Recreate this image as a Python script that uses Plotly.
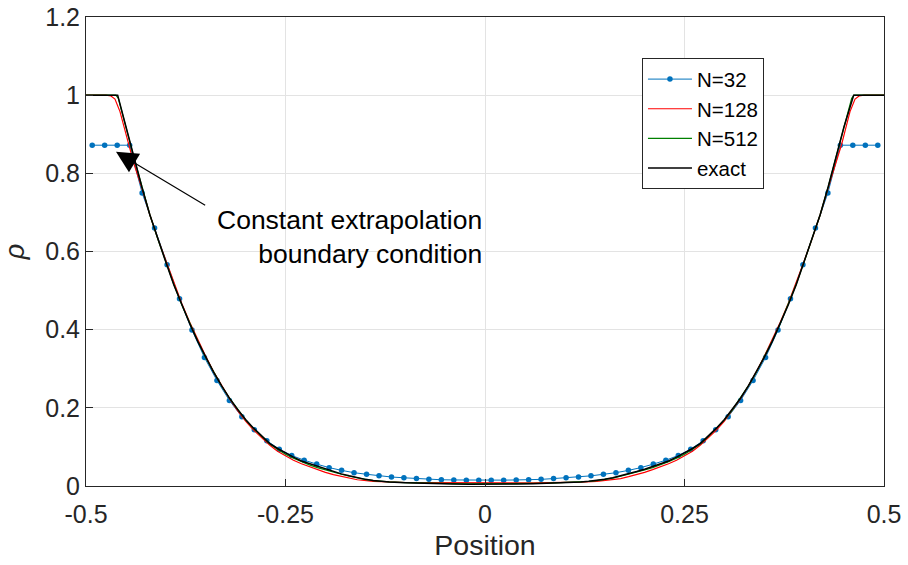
import plotly.graph_objects as go

# ---------------- data ----------------
n32_x = [-0.4922, -0.4766, -0.4609, -0.4453, -0.4297, -0.4141, -0.3984, -0.3828, -0.3672, -0.3516,
         -0.3359, -0.3203, -0.3047, -0.2891, -0.2734, -0.2578, -0.2422, -0.2266, -0.2109, -0.1953,
         -0.1797, -0.1641, -0.1484, -0.1328, -0.1172, -0.1016, -0.0859, -0.0703, -0.0547, -0.0391,
         -0.0234, -0.0078,
         0.0078, 0.0234, 0.0391, 0.0547, 0.0703, 0.0859, 0.1016, 0.1172, 0.1328, 0.1484,
         0.1641, 0.1797, 0.1953, 0.2109, 0.2266, 0.2422, 0.2578, 0.2734, 0.2891, 0.3047,
         0.3203, 0.3359, 0.3516, 0.3672, 0.3828, 0.3984, 0.4141, 0.4297, 0.4453, 0.4609,
         0.4766, 0.4922]
n32_y = [0.872, 0.872, 0.872, 0.872, 0.750, 0.660, 0.566, 0.479, 0.399, 0.329,
         0.270, 0.219, 0.177, 0.144, 0.116, 0.094, 0.078, 0.066, 0.056, 0.047,
         0.040, 0.034, 0.030, 0.026, 0.023, 0.021, 0.019, 0.017, 0.016, 0.0155,
         0.015, 0.015,
         0.015, 0.015, 0.0155, 0.016, 0.017, 0.019, 0.021, 0.023, 0.026, 0.030,
         0.034, 0.040, 0.047, 0.056, 0.066, 0.078, 0.094, 0.116, 0.144, 0.177,
         0.219, 0.270, 0.329, 0.399, 0.479, 0.566, 0.660, 0.750, 0.872, 0.872,
         0.872, 0.872]

n128_x = [-0.5, -0.475, -0.4687, -0.4637, -0.4574, -0.452, -0.447, -0.44, -0.43, -0.42,
          -0.41, -0.40, -0.39, -0.38, -0.37, -0.36, -0.35, -0.34, -0.33, -0.32,
          -0.31, -0.30, -0.29, -0.28, -0.27, -0.26, -0.25, -0.24, -0.23, -0.22,
          -0.21, -0.20, -0.19, -0.18, -0.17, -0.16, -0.14, -0.12, -0.10, -0.08,
          -0.06, -0.04, -0.02, 0.0,
          0.02, 0.04, 0.06, 0.08, 0.10, 0.12, 0.14, 0.16, 0.17, 0.18,
          0.19, 0.20, 0.21, 0.22, 0.23, 0.24, 0.25, 0.26, 0.27, 0.28,
          0.29, 0.30, 0.31, 0.32, 0.33, 0.34, 0.35, 0.36, 0.37, 0.38,
          0.39, 0.40, 0.41, 0.42, 0.43, 0.44, 0.447, 0.452, 0.4574, 0.4637,
          0.4687, 0.475, 0.5]
n128_y = [1.0, 1.0, 0.998, 0.99, 0.958, 0.915, 0.875, 0.825, 0.762, 0.694,
          0.633, 0.576, 0.519, 0.467, 0.419, 0.374, 0.332, 0.292, 0.256, 0.223,
          0.193, 0.166, 0.143, 0.123, 0.105, 0.089, 0.077, 0.066, 0.057, 0.049,
          0.042, 0.035, 0.029, 0.024, 0.019, 0.016, 0.012, 0.0100, 0.0090, 0.0086,
          0.0083, 0.0081, 0.0080, 0.0080,
          0.0080, 0.0081, 0.0083, 0.0086, 0.0090, 0.0100, 0.012, 0.016, 0.019, 0.024,
          0.029, 0.035, 0.042, 0.049, 0.057, 0.066, 0.077, 0.089, 0.105, 0.123,
          0.143, 0.166, 0.193, 0.223, 0.256, 0.292, 0.332, 0.374, 0.419, 0.467,
          0.519, 0.576, 0.633, 0.694, 0.762, 0.825, 0.875, 0.915, 0.958, 0.99,
          0.998, 1.0, 1.0]

n512_x = [-0.5, -0.4625, -0.4595, -0.456, -0.45, -0.44, -0.43, -0.42, -0.41, -0.40,
          -0.39, -0.38, -0.37, -0.36, -0.35, -0.34, -0.33, -0.32, -0.31, -0.30,
          -0.29, -0.28, -0.27, -0.26, -0.25, -0.24, -0.23, -0.22, -0.21, -0.20,
          -0.19, -0.18, -0.17, -0.16, -0.15, -0.14, -0.13, -0.12, -0.10, -0.08,
          -0.06, -0.04, -0.02, 0.0,
          0.02, 0.04, 0.06, 0.08, 0.10, 0.12, 0.13, 0.14, 0.15, 0.16,
          0.17, 0.18, 0.19, 0.20, 0.21, 0.22, 0.23, 0.24, 0.25, 0.26,
          0.27, 0.28, 0.29, 0.30, 0.31, 0.32, 0.33, 0.34, 0.35, 0.36,
          0.37, 0.38, 0.39, 0.40, 0.41, 0.42, 0.43, 0.44, 0.45, 0.456,
          0.4595, 0.4625, 0.5]
n512_y = [1.0, 1.0, 0.992, 0.962, 0.918, 0.841, 0.765, 0.694, 0.632, 0.574,
          0.516, 0.464, 0.416, 0.371, 0.329, 0.291, 0.256, 0.224, 0.195, 0.169,
          0.147, 0.127, 0.108, 0.094, 0.081, 0.071, 0.062, 0.054, 0.047, 0.041,
          0.035, 0.030, 0.025, 0.020, 0.017, 0.014, 0.012, 0.0105, 0.0088, 0.0075,
          0.0066, 0.0060, 0.0057, 0.0056,
          0.0057, 0.0060, 0.0066, 0.0075, 0.0088, 0.0105, 0.012, 0.014, 0.017, 0.020,
          0.025, 0.030, 0.035, 0.041, 0.047, 0.054, 0.062, 0.071, 0.081, 0.094,
          0.108, 0.127, 0.147, 0.169, 0.195, 0.224, 0.256, 0.291, 0.329, 0.371,
          0.416, 0.464, 0.516, 0.574, 0.632, 0.694, 0.765, 0.841, 0.918, 0.962,
          0.992, 1.0, 1.0]

exact_x = [-0.5, -0.4603, -0.45, -0.44, -0.43, -0.42, -0.41, -0.40, -0.39, -0.38,
           -0.37, -0.36, -0.35, -0.34, -0.33, -0.32, -0.31, -0.30, -0.29, -0.28,
           -0.27, -0.26, -0.25, -0.24, -0.23, -0.22, -0.21, -0.20, -0.19, -0.18,
           -0.17, -0.16, -0.15, -0.14, -0.13, -0.12, -0.10, -0.08, -0.06, -0.04,
           -0.02, 0.0,
           0.02, 0.04, 0.06, 0.08, 0.10, 0.12, 0.13, 0.14, 0.15, 0.16,
           0.17, 0.18, 0.19, 0.20, 0.21, 0.22, 0.23, 0.24, 0.25, 0.26,
           0.27, 0.28, 0.29, 0.30, 0.31, 0.32, 0.33, 0.34, 0.35, 0.36,
           0.37, 0.38, 0.39, 0.40, 0.41, 0.42, 0.43, 0.44, 0.45, 0.4620,
           0.5]
exact_y = [1.0, 1.0, 0.920, 0.842, 0.765, 0.694, 0.632, 0.573, 0.515, 0.463,
           0.415, 0.370, 0.329, 0.291, 0.256, 0.224, 0.196, 0.170, 0.148, 0.128,
           0.109, 0.096, 0.084, 0.074, 0.064, 0.057, 0.050, 0.043, 0.037, 0.031,
           0.026, 0.021, 0.017, 0.014, 0.012, 0.0105, 0.0085, 0.007, 0.006, 0.005,
           0.0045, 0.0043,
           0.0045, 0.005, 0.006, 0.007, 0.0085, 0.0105, 0.012, 0.014, 0.017, 0.021,
           0.026, 0.031, 0.037, 0.043, 0.050, 0.057, 0.064, 0.074, 0.084, 0.096,
           0.109, 0.128, 0.148, 0.170, 0.196, 0.224, 0.256, 0.291, 0.329, 0.370,
           0.415, 0.463, 0.515, 0.573, 0.632, 0.694, 0.765, 0.842, 0.920, 1.0,
           1.0]

x_tick_vals = [-0.5, -0.25, 0, 0.25, 0.5]
x_tick_text = ["-0.5", "-0.25", "0", "0.25", "0.5"]
y_tick_vals = [0, 0.2, 0.4, 0.6, 0.8, 1.0, 1.2]
y_tick_text = ["0", "0.2", "0.4", "0.6", "0.8", "1", "1.2"]

series_names = ["N=32", "N=128", "N=512", "exact"]
note_text = "Constant extrapolation<br>boundary condition"

# ---------------- figure ----------------
FONT = "Liberation Sans, Arial, Helvetica, sans-serif"
AX = "#262626"

fig = go.Figure()
fig.add_trace(go.Scatter(x=n32_x, y=n32_y, name=series_names[0], mode="lines+markers",
                         line=dict(color="#0072BD", width=1),
                         marker=dict(color="#0072BD", size=5.5)))
fig.add_trace(go.Scatter(x=n128_x, y=n128_y, name=series_names[1], mode="lines",
                         line=dict(color="#FF0000", width=1.2)))
fig.add_trace(go.Scatter(x=n512_x, y=n512_y, name=series_names[2], mode="lines",
                         line=dict(color="#008000", width=1.2)))
fig.add_trace(go.Scatter(x=exact_x, y=exact_y, name=series_names[3], mode="lines",
                         line=dict(color="#000000", width=1.5)))

axis_common = dict(showgrid=True, gridcolor="#e3e3e3", gridwidth=1,
                   showline=True, linecolor=AX, linewidth=1, mirror=True,
                   ticks="inside", ticklen=7, tickcolor=AX, zeroline=False,
                   automargin=False,
                   tickfont=dict(family=FONT, size=25, color=AX))

fig.update_xaxes(range=[-0.5, 0.5], tickvals=x_tick_vals, ticktext=x_tick_text,
                 ticklabelstandoff=6,
                 title=dict(text="Position", font=dict(family=FONT, size=28.5, color=AX), standoff=8),
                 **axis_common)
fig.update_yaxes(range=[0, 1.2], tickvals=y_tick_vals, ticktext=y_tick_text,
                 title=dict(text="<i>ρ</i>", font=dict(family=FONT, size=27, color=AX), standoff=13),
                 **axis_common)

fig.add_annotation(x=-0.4624, y=0.855, ax=-0.3488, ay=0.716, xref="x", yref="y",
                   axref="x", ayref="y", text="", showarrow=True,
                   arrowhead=2, arrowsize=3.6, arrowwidth=1.2, arrowcolor="#000000",
                   standoff=0, startstandoff=0)
fig.add_annotation(x=-0.0013, y=0.637, xref="x", yref="y", text=note_text,
                   showarrow=False, xanchor="right", yanchor="middle", align="right",
                   font=dict(family=FONT, size=26.5, color="#000000"))

fig.update_layout(
    width=908, height=565,
    margin=dict(l=86, r=24, t=17, b=79),
    paper_bgcolor="white", plot_bgcolor="white",
    font=dict(family=FONT, color=AX),
    showlegend=True,
    legend=dict(x=0.6967, y=0.912, xanchor="left", yanchor="top",
                bgcolor="white", bordercolor=AX, borderwidth=1,
                font=dict(family=FONT, size=20.5, color="#000000"),
                tracegroupgap=0, itemwidth=44, entrywidth=82, entrywidthmode="pixels"),
)

fig.write_html("out.html", config={"displayModeBar": False},
               post_script="document.body.style.margin='0';document.body.style.overflow='hidden';")
